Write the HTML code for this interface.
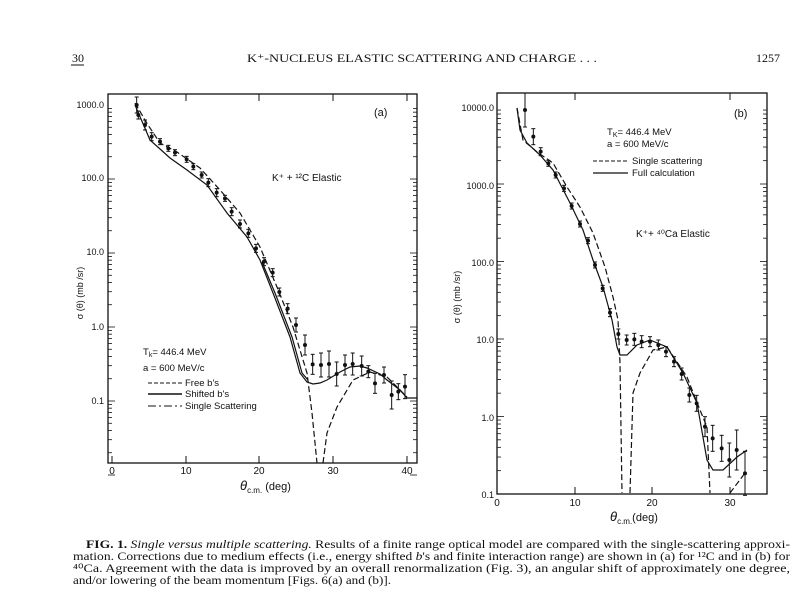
<!DOCTYPE html>
<html><head><meta charset="utf-8"><style>
html,body{margin:0;padding:0;background:#fff;}
svg{display:block;}
.s{font-family:"Liberation Sans",sans-serif;fill:#111;}
.t{font-family:"Liberation Serif",serif;fill:#111;}
</style></head><body>
<svg width="812" height="608" viewBox="0 0 812 608" xmlns="http://www.w3.org/2000/svg">
<rect width="812" height="608" fill="#fff"/>
<!-- header -->
<text class="t" x="72" y="62" font-size="12">30</text>
<line x1="71" y1="65" x2="84" y2="65" stroke="#111" stroke-width="1"/>
<text class="t" x="247" y="62" font-size="11.5" textLength="350" lengthAdjust="spacingAndGlyphs">K⁺-NUCLEUS ELASTIC SCATTERING AND CHARGE . . .</text>
<text class="t" x="756" y="62" font-size="12">1257</text>

<!-- PANEL A -->
<g fill="none" stroke="#111" stroke-width="1.3">
<rect x="108" y="94" width="309" height="369"/>
</g>
<g stroke="#111" stroke-width="1">
<line x1="112" y1="463" x2="112" y2="456"/><line x1="186" y1="463" x2="186" y2="456"/><line x1="259" y1="463" x2="259" y2="456"/><line x1="333" y1="463" x2="333" y2="456"/><line x1="407" y1="463" x2="407" y2="456"/>
<line x1="186" y1="94" x2="186" y2="101"/><line x1="259" y1="94" x2="259" y2="101"/><line x1="333" y1="94" x2="333" y2="101"/><line x1="407" y1="94" x2="407" y2="101"/>
</g>
<g id="ma" stroke="#111" stroke-width="0.8"></g>
<g class="s" font-size="9" text-anchor="end">
<text x="104" y="108">1000.0</text><text x="104" y="181">100.0</text><text x="104" y="255">10.0</text><text x="104" y="330">1.0</text><text x="104" y="404">0.1</text>
</g>
<g class="s" font-size="10" text-anchor="middle">
<text x="112" y="474">0</text><text x="186" y="474">10</text><text x="259" y="474">20</text><text x="333" y="474">30</text><text x="407" y="474">40</text>
</g>
<text class="s" font-size="11" x="240" y="490"><tspan font-style="italic" font-size="13">θ</tspan><tspan font-size="8" dy="3">c.m.</tspan><tspan dy="-3"> (deg)</tspan></text>
<text class="s" font-size="9" transform="translate(83,293) rotate(-90)" text-anchor="middle">σ (θ) (mb /sr)</text>
<text class="s" font-size="11" x="374" y="116">(a)</text>
<text class="s" font-size="10" x="272" y="181">K⁺ + ¹²C  Elastic</text>
<text class="s" font-size="9.5" x="143" y="355">T<tspan font-size="7" dy="2">k</tspan><tspan dy="-2">= 446.4  MeV</tspan></text>
<text class="s" font-size="9.5" x="143" y="371">a = 600  MeV/c</text>
<g stroke="#111" stroke-width="1" fill="none">
<line x1="148" y1="383" x2="182" y2="383" stroke-dasharray="4,2"/>
<line x1="148" y1="394" x2="182" y2="394" stroke-width="1.4"/>
<line x1="148" y1="406" x2="182" y2="406" stroke-dasharray="8,3,2,3"/>
</g>
<g class="s" font-size="9.5"><text x="185" y="386">Free  b's</text><text x="185" y="397">Shifted  b's</text><text x="185" y="409">Single  Scattering</text></g>
<g fill="none" stroke="#111" stroke-width="1.2">
<polyline points="135,105 150,140 170,158 187,170 207,185 227,213 247,237 260,260 273,293 290,337 300,373 307,382 313,384 320,383 327,380 340,372 350,367 360,366 367,368 380,374 387,380 400,390 407,398 417,398"/>
<polyline points="262,262 275,293 292,337 302,373 308,380"/>
<polyline stroke-dasharray="6,3" points="135,103 148,125 160,143 177,152 200,168 220,190 240,213 260,247 277,287 293,327 307,373 312,413 317,463"/>
<polyline stroke-dasharray="6,3" points="323,463 327,433 337,407 353,380 370,372 387,377 407,397"/>
</g>
<g id="da" stroke="#111" stroke-width="1" fill="#111"></g>

<!-- PANEL B -->
<rect x="497" y="93" width="270" height="401" fill="none" stroke="#111" stroke-width="1.3"/>
<g stroke="#111" stroke-width="1">
<line x1="575" y1="494" x2="575" y2="487"/><line x1="652" y1="494" x2="652" y2="487"/><line x1="730" y1="494" x2="730" y2="487"/>
<line x1="575" y1="93" x2="575" y2="100"/><line x1="730" y1="93" x2="730" y2="100"/>
</g>
<g id="mb" stroke="#111" stroke-width="0.8"></g>
<g class="s" font-size="9" text-anchor="end">
<text x="494" y="111">10000.0</text><text x="494" y="189">1000.0</text><text x="494" y="266">100.0</text><text x="494" y="343">10.0</text><text x="494" y="421">1.0</text><text x="494" y="498">0.1</text>
</g>
<g class="s" font-size="10" text-anchor="middle">
<text x="497" y="506">0</text><text x="575" y="506">10</text><text x="652" y="506">20</text><text x="730" y="506">30</text>
</g>
<text class="s" font-size="11" x="610" y="521"><tspan font-style="italic" font-size="13">θ</tspan><tspan font-size="8" dy="3">c.m.</tspan><tspan dy="-3">(deg)</tspan></text>
<text class="s" font-size="9" transform="translate(460,297) rotate(-90)" text-anchor="middle">σ (θ) (mb /sr)</text>
<text class="s" font-size="11" x="734" y="117">(b)</text>
<text class="s" font-size="9.5" x="607" y="135">T<tspan font-size="7" dy="2">K</tspan><tspan dy="-2">= 446.4  MeV</tspan></text>
<text class="s" font-size="9.5" x="607" y="147">a = 600  MeV/c</text>
<g stroke="#111" stroke-width="1"><line x1="593" y1="161" x2="628" y2="161" stroke-dasharray="4,2"/><line x1="593" y1="173" x2="628" y2="173" stroke-width="1.3"/></g>
<g class="s" font-size="9.5"><text x="632" y="164">Single  scattering</text><text x="632" y="176">Full  calculation</text></g>
<text class="s" font-size="10" x="636" y="237">K⁺+ ⁴⁰Ca  Elastic</text>
<g fill="none" stroke="#111" stroke-width="1.2">
<polyline points="517,108 520,130 527,143 540,155 553,170 570,203 583,230 593,260 603,287 612,320 617,347 620,355 627,355 637,345 650,340 667,347 683,373 697,403 707,460 713,470 723,470 737,457 747,450"/>
<polyline stroke-dasharray="6,3" points="517,108 523,140 537,152 553,163 567,187 580,207 593,233 605,267 613,297 618,320 620,363 622,493"/>
<polyline stroke-dasharray="6,3" points="630,493 633,393 640,373 653,350 667,347 687,377 700,410 707,427 710,493"/>
<polyline stroke-dasharray="6,3" points="730,493 745,473"/>
</g>
<g id="db" stroke="#111" stroke-width="1" fill="#111"></g>

<!-- caption -->
<g class="t" font-size="11.3">
<text x="86" y="548" textLength="704" lengthAdjust="spacingAndGlyphs"><tspan font-weight="bold">FIG. 1.</tspan> <tspan font-style="italic">Single versus multiple scattering.</tspan> Results of a finite range optical model are compared with the single-scattering approxi-</text>
<text x="73" y="560" textLength="717" lengthAdjust="spacingAndGlyphs">mation. Corrections due to medium effects (i.e., energy shifted <tspan font-style="italic">b</tspan>'s and finite interaction range) are shown in (a) for ¹²C and in (b) for</text>
<text x="73" y="572" textLength="717" lengthAdjust="spacingAndGlyphs">⁴⁰Ca. Agreement with the data is improved by an overall renormalization (Fig. 3), an angular shift of approximately one degree,</text>
<text x="73" y="584" textLength="318" lengthAdjust="spacingAndGlyphs">and/or lowering of the beam momentum [Figs. 6(a) and (b)].</text>
</g>
</svg>
<script>
(function(){
var NS="http://www.w3.org/2000/svg";
function ln(g,x1,y1,x2,y2){var l=document.createElementNS(NS,"line");l.setAttribute("x1",x1);l.setAttribute("y1",y1);l.setAttribute("x2",x2);l.setAttribute("y2",y2);g.appendChild(l);}
function minors(id,xl,xr,y0,dec,n){var g=document.getElementById(id);
for(var d=0;d<n;d++){for(var k=1;k<=9;k++){var y=y0-dec*d-dec*Math.log10(k);var w=(k==1)?7:4;
ln(g,xl,y,xl+w,y);ln(g,xr,y,xr-w,y);}}}
minors("ma",108,417,475,74,5);
minors("mb",497,767,494,77.5,5);
function pts(id,arr,ox,oy){var g=document.getElementById(id);
arr.forEach(function(p){var x=p[0]/3+ox,y=p[1]/3+oy,e=p[2];
var c=document.createElementNS(NS,"circle");c.setAttribute("cx",x);c.setAttribute("cy",y);c.setAttribute("r",1.5);g.appendChild(c);
ln(g,x,y-e,x,y+e);ln(g,x-2,y-e,x+2,y-e);ln(g,x-2,y+e,x+2,y+e);});}
pts("da",[[230,75,8],[235,105,4],[255,135,5],[275,170,4],[300,185,3],[325,205,3],[345,218,3],[380,238,3],[400,260,3],[425,285,3],[445,308,4],[470,338,4],[495,355,3],[515,395,4],[540,432,4],[565,460,4],[588,505,4],[612,545,4],[638,578,4],[658,636,4],[683,686,5],[708,735,7],[735,795,10],[758,853,10],[783,855,12],[807,852,13],[830,882,12],[855,855,10],[878,852,11],[905,858,10],[925,875,6],[945,910,10],[972,885,8],[995,945,14],[1015,935,8],[1035,920,12]],60,80);
pts("db",[[315,90,17],[340,170,8],[362,215,4],[385,250,3],[407,285,3],[432,325,3],[455,378,3],[480,432,3],[504,482,3],[525,555,3],[548,625,3],[570,698,4],[595,762,5],[620,780,5],[643,778,6],[665,785,6],[690,785,5],[715,795,5],[738,815,5],[762,845,5],[785,882,6],[808,945,7],[830,970,8],[855,1040,10],[878,1075,13],[905,1105,13],[928,1140,17],[950,1110,20],[975,1180,22]],420,80);
})();
</script>
</body></html>
